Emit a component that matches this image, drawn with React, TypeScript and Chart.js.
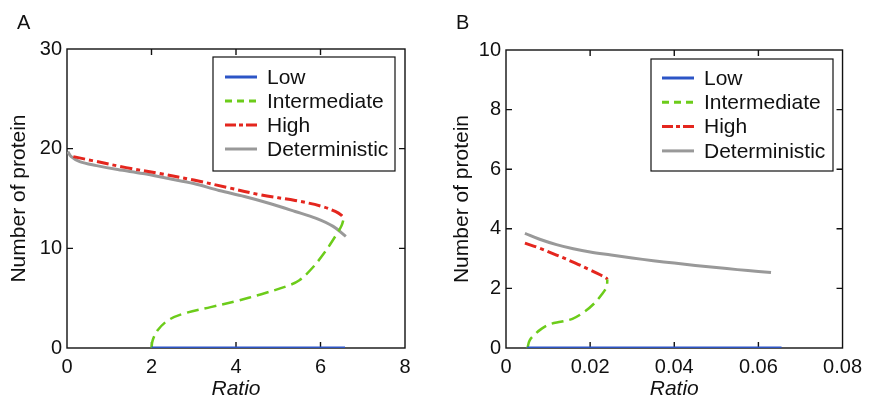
import React, { useEffect, useRef } from "react";
import { Chart, registerables } from "chart.js";

Chart.register(...registerables);

const FONT = "'Liberation Sans', Arial, Helvetica, sans-serif";

const SERIES_LABELS = ["Low", "Intermediate", "High", "Deterministic"];
const SERIES_COLORS = ["#2c55c6", "#6ccc1a", "#e4261e", "#999999"];
const SERIES_WIDTHS = [3, 2.5, 3, 3];
const SERIES_DASH: number[][] = [[], [12, 6], [12, 4, 4, 4], []];
const LEGEND_DASH: number[][] = [[], [7, 5], [11, 3, 4, 3], []];

// Panel A
const A_X_TICKS = [0, 2, 4, 6, 8];
const A_Y_TICKS = [0, 10, 20, 30];
const A_LOW_X = [2.0, 6.58];
const A_LOW_Y = [0, 0];
const A_INTER_X = [2.0, 2.03, 2.15, 2.4, 2.8, 3.4, 4.0, 4.6, 5.2, 5.5, 5.8, 6.1, 6.35, 6.5, 6.55];
const A_INTER_Y = [0, 0.8, 1.8, 2.8, 3.5, 4.1, 4.7, 5.4, 6.2, 6.8, 8.0, 9.6, 11.2, 12.3, 13.0];
const A_HIGH_X = [0.15, 0.6, 1.4, 2.2, 3.0, 3.8, 4.6, 5.4, 6.0, 6.35, 6.5, 6.55];
const A_HIGH_Y = [19.2, 18.8, 18.1, 17.5, 16.85, 16.1, 15.35, 14.8, 14.25, 13.7, 13.3, 13.0];
const A_DET_X = [0.02, 0.1, 0.3, 0.7, 1.2, 1.8, 2.4, 3.0, 3.6, 4.2, 4.8, 5.4, 5.9, 6.3, 6.6];
const A_DET_Y = [19.7, 19.2, 18.7, 18.3, 17.9, 17.5, 17.0, 16.5, 15.8, 15.2, 14.5, 13.7, 13.0, 12.2, 11.2];

// Panel B
const B_X_TICKS = [0, 0.02, 0.04, 0.06, 0.08];
const B_Y_TICKS = [0, 2, 4, 6, 8, 10];
const B_LOW_X = [0.005, 0.0655];
const B_LOW_Y = [0, 0];
const B_INTER_X = [0.0051, 0.0056, 0.0068, 0.0085, 0.0105, 0.013, 0.0158, 0.0185, 0.021, 0.0228, 0.0239, 0.0241];
const B_INTER_Y = [0, 0.25, 0.45, 0.65, 0.8, 0.88, 0.98, 1.2, 1.5, 1.8, 2.05, 2.3];
const B_HIGH_X = [0.0045, 0.008, 0.012, 0.0165, 0.02, 0.0225, 0.0238, 0.0241];
const B_HIGH_Y = [3.52, 3.35, 3.12, 2.85, 2.62, 2.45, 2.35, 2.3];
const B_DET_X = [0.0045, 0.008, 0.012, 0.016, 0.02, 0.025, 0.03, 0.035, 0.04, 0.045, 0.05, 0.055, 0.06, 0.063];
const B_DET_Y = [3.85, 3.65, 3.47, 3.33, 3.22, 3.12, 3.02, 2.93, 2.85, 2.77, 2.7, 2.63, 2.57, 2.53];

const X_TITLE = "Ratio";
const Y_TITLE = "Number of protein";

type Series = { x: number[]; y: number[] };
type LegendBox = { x: number; y: number; w: number; h: number; row0: number; rowStep: number; lineX0: number; lineX1: number; textX: number };

type PanelProps = {
  left: number;
  width: number;
  height: number;
  xTicks: number[];
  yTicks: number[];
  series: Series[];
  padTop: number;
  padRight: number;
  yAxisWidth: number;
  xAxisHeight: number;
  yTitlePad: number;
  legend: LegendBox;
};

const framePlugin = {
  id: "frameTicks",
  beforeDatasetsDraw(chart: any) {
    const { ctx, chartArea } = chart;
    const { left, right, top, bottom } = chartArea;
    const xs = chart.scales.x;
    const ys = chart.scales.y;
    ctx.save();
    ctx.strokeStyle = "#111";
    ctx.lineWidth = 1.4;
    ctx.strokeRect(left, top, right - left, bottom - top);
    const len = 6;
    ctx.beginPath();
    xs.ticks.forEach((t: any) => {
      const px = xs.getPixelForValue(t.value);
      if (px <= left + 1 || px >= right - 1) return;
      ctx.moveTo(px, bottom);
      ctx.lineTo(px, bottom - len);
      ctx.moveTo(px, top);
      ctx.lineTo(px, top + len);
    });
    ys.ticks.forEach((t: any) => {
      const py = ys.getPixelForValue(t.value);
      if (py <= top + 1 || py >= bottom - 1) return;
      ctx.moveTo(left, py);
      ctx.lineTo(left + len, py);
      ctx.moveTo(right, py);
      ctx.lineTo(right - len, py);
    });
    ctx.stroke();
    ctx.restore();
  },
};

const legendPlugin = {
  id: "boxLegend",
  afterDraw(chart: any, _args: any, opts: any) {
    const lb: LegendBox = opts.box;
    if (!lb) return;
    const { ctx } = chart;
    ctx.save();
    ctx.fillStyle = "#fff";
    ctx.fillRect(lb.x, lb.y, lb.w, lb.h);
    ctx.strokeStyle = "#111";
    ctx.lineWidth = 1.2;
    ctx.strokeRect(lb.x, lb.y, lb.w, lb.h);
    chart.data.datasets.forEach((ds: any, i: number) => {
      const yy = lb.row0 + i * lb.rowStep;
      ctx.beginPath();
      ctx.setLineDash(LEGEND_DASH[i]);
      ctx.strokeStyle = ds.borderColor;
      ctx.lineWidth = 3;
      ctx.moveTo(lb.lineX0, yy);
      ctx.lineTo(lb.lineX1, yy);
      ctx.stroke();
      ctx.setLineDash([]);
      ctx.fillStyle = "#111";
      ctx.font = `21px ${FONT}`;
      ctx.textBaseline = "middle";
      ctx.textAlign = "left";
      ctx.fillText(ds.label, lb.textX, yy + 1);
    });
    ctx.restore();
  },
};

function Panel(p: PanelProps) {
  const ref = useRef<HTMLCanvasElement | null>(null);
  useEffect(() => {
    if (!ref.current) return;
    const xMin = p.xTicks[0];
    const xMax = p.xTicks[p.xTicks.length - 1];
    const yMin = p.yTicks[0];
    const yMax = p.yTicks[p.yTicks.length - 1];
    const chart = new Chart(ref.current, {
      type: "line",
      data: {
        datasets: p.series.map((s, i) => ({
          label: SERIES_LABELS[i],
          data: s.x.map((xv, j) => ({ x: xv, y: s.y[j] })),
          borderColor: SERIES_COLORS[i],
          backgroundColor: SERIES_COLORS[i],
          borderWidth: SERIES_WIDTHS[i],
          borderDash: SERIES_DASH[i],
          borderCapStyle: "butt",
          pointRadius: 0,
          tension: 0.35,
          fill: false,
        })) as any,
      },
      options: {
        responsive: false,
        animation: false,
        events: [],
        devicePixelRatio: 1,
        layout: { padding: { top: p.padTop, right: p.padRight, left: 0, bottom: 0 } },
        scales: {
          x: {
            type: "linear",
            min: xMin,
            max: xMax,
            afterBuildTicks: (s: any) => {
              s.ticks = p.xTicks.map((v) => ({ value: v }));
            },
            afterFit: (s: any) => {
              s.height = p.xAxisHeight;
            },
            grid: { display: false, drawTicks: false },
            border: { display: false },
            ticks: {
              color: "#111",
              padding: 7,
              maxRotation: 0,
              autoSkip: false,
              font: { family: FONT, size: 20 },
              callback: (v: any) => String(v),
            },
            title: {
              display: true,
              text: X_TITLE,
              color: "#111",
              font: { family: FONT, size: 21, style: "italic", lineHeight: 0.8 },
              padding: { top: 0, bottom: 0 },
            },
          },
          y: {
            type: "linear",
            min: yMin,
            max: yMax,
            afterBuildTicks: (s: any) => {
              s.ticks = p.yTicks.map((v) => ({ value: v }));
            },
            afterFit: (s: any) => {
              s.width = p.yAxisWidth;
            },
            grid: { display: false, drawTicks: false },
            border: { display: false },
            ticks: {
              color: "#111",
              padding: 5,
              autoSkip: false,
              font: { family: FONT, size: 20 },
              callback: (v: any) => String(v),
            },
            title: {
              display: true,
              text: Y_TITLE,
              color: "#111",
              font: { family: FONT, size: 21, lineHeight: 1 },
              padding: { top: p.yTitlePad, bottom: 0 },
            },
          },
        },
        plugins: {
          legend: { display: false },
          tooltip: { enabled: false },
          boxLegend: { box: p.legend },
        } as any,
      },
      plugins: [framePlugin, legendPlugin],
    });
    return () => chart.destroy();
  }, []);
  return (
    <canvas
      ref={ref}
      width={p.width}
      height={p.height}
      style={{ position: "absolute", left: p.left, top: 0, width: p.width, height: p.height }}
    />
  );
}

export default function App() {
  const seriesA: Series[] = [
    { x: A_LOW_X, y: A_LOW_Y },
    { x: A_INTER_X, y: A_INTER_Y },
    { x: A_HIGH_X, y: A_HIGH_Y },
    { x: A_DET_X, y: A_DET_Y },
  ];
  const seriesB: Series[] = [
    { x: B_LOW_X, y: B_LOW_Y },
    { x: B_INTER_X, y: B_INTER_Y },
    { x: B_HIGH_X, y: B_HIGH_Y },
    { x: B_DET_X, y: B_DET_Y },
  ];
  const letterStyle: React.CSSProperties = {
    position: "absolute",
    top: 12,
    fontFamily: FONT,
    fontSize: 20,
    lineHeight: "20px",
    color: "#111",
  };
  return (
    <div style={{ position: "absolute", left: 0, top: 0, width: 869, height: 398, background: "#fff", overflow: "hidden" }}>
      <Panel
        left={0}
        width={434}
        height={398}
        xTicks={A_X_TICKS}
        yTicks={A_Y_TICKS}
        series={seriesA}
        padTop={49}
        padRight={29}
        yAxisWidth={67}
        xAxisHeight={50}
        yTitlePad={9}
        legend={{ x: 213, y: 57, w: 182, h: 114, row0: 77, rowStep: 24, lineX0: 225, lineX1: 257, textX: 267 }}
      />
      <Panel
        left={434}
        width={435}
        height={398}
        xTicks={B_X_TICKS}
        yTicks={B_Y_TICKS}
        series={seriesB}
        padTop={50}
        padRight={23}
        yAxisWidth={72}
        xAxisHeight={50}
        yTitlePad={18}
        legend={{ x: 217, y: 59, w: 182, h: 112, row0: 78, rowStep: 24.3, lineX0: 228, lineX1: 260, textX: 270 }}
      />
      <div style={{ ...letterStyle, left: 17 }}>A</div>
      <div style={{ ...letterStyle, left: 456 }}>B</div>
    </div>
  );
}
